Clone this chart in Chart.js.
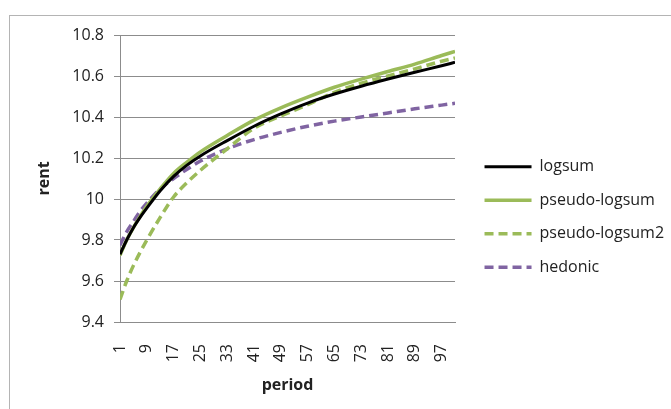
<!DOCTYPE html>
<html>
<head>
<meta charset="utf-8">
<script src="https://cdn.jsdelivr.net/npm/chart.js@4.4.1/dist/chart.umd.min.js"></script>
<style>
  html, body { margin: 0; padding: 0; background: #fff; }
  #wrap { position: relative; width: 671px; height: 409px; overflow: hidden; }
  #frame { position: absolute; left: 9px; top: 15px; width: 680px; height: 420px; border: 1px solid #b4b4b4; box-sizing: border-box; }
  #chart { position: absolute; left: 0; top: 0; }
</style>
</head>
<body>
<div id="wrap">
  <div id="frame"></div>
  <canvas id="chart" width="671" height="409"></canvas>
</div>
<script>
// periods (x positions of the samples)
const periods = [1, 3, 5, 7, 9, 13, 17, 21, 25, 33, 41, 49, 57, 65, 73, 81, 89, 97, 101];

const logsum = [9.73, 9.80, 9.86, 9.91, 9.955, 10.04, 10.11, 10.165, 10.21, 10.285, 10.355, 10.415, 10.468, 10.512, 10.55, 10.585, 10.618, 10.65, 10.667];
const pseudoLogsum = [9.725, 9.80, 9.86, 9.915, 9.965, 10.05, 10.125, 10.18, 10.23, 10.31, 10.385, 10.445, 10.497, 10.545, 10.585, 10.622, 10.658, 10.70, 10.72];
const pseudoLogsum2 = [9.51, 9.60, 9.675, 9.74, 9.80, 9.91, 10.01, 10.08, 10.14, 10.245, 10.345, 10.405, 10.46, 10.52, 10.565, 10.60, 10.635, 10.672, 10.688];
const hedonic = [9.775, 9.84, 9.89, 9.94, 9.98, 10.05, 10.10, 10.145, 10.185, 10.245, 10.29, 10.325, 10.355, 10.38, 10.40, 10.42, 10.44, 10.458, 10.467];

const periodTicks = [1, 9, 17, 25, 33, 41, 49, 57, 65, 73, 81, 89, 97];
const rentTicks = [9.4, 9.6, 9.8, 10, 10.2, 10.4, 10.6, 10.8];

const FONT = "'Open Sans', 'DejaVu Sans', sans-serif";
const GRID = "#8c8c8c";

const points = (values) => periods.map((p, i) => ({ x: p, y: values[i] }));

function line(label, values, color, dash, width) {
  return {
    label,
    data: points(values),
    borderColor: color,
    backgroundColor: color,
    borderWidth: width,
    borderDash: dash,
    pointRadius: 0,
    cubicInterpolationMode: "monotone",
    fill: false
  };
}

// side boxes are capped at a quarter of the width, so widen the
// legend box after layout and nudge it to where the reference has it
const legendShift = {
  id: "legendShift",
  afterLayout(chart) {
    const lg = chart.legend;
    if (!lg) return;
    lg.left += 12;
    lg.right = chart.width;
    lg.width = lg.right - lg.left;
  }
};

// with point styles the legend takes the point's look, so copy the line's
function lineLabels(chart) {
  const base = Chart.defaults.plugins.legend.labels.generateLabels(chart);
  return base.map((item) => {
    const ds = chart.data.datasets[item.datasetIndex];
    item.pointStyle = "line";
    item.strokeStyle = ds.borderColor;
    item.fillStyle = ds.borderColor;
    item.lineWidth = ds.borderWidth;
    item.lineDash = ds.borderDash;
    return item;
  });
}

new Chart(document.getElementById("chart"), {
  type: "line",
  data: {
    datasets: [
      line("logsum", logsum, "#000000", [], 3),
      line("pseudo-logsum", pseudoLogsum, "#9bbb59", [], 3.5),
      line("pseudo-logsum2", pseudoLogsum2, "#9bbb59", [9, 5], 3.5),
      line("hedonic", hedonic, "#8064a2", [9, 5], 3.5)
    ]
  },
  options: {
    responsive: false,
    animation: false,
    devicePixelRatio: 1,
    layout: { padding: { left: 0, top: 35, right: 64.3, bottom: 10 } },
    plugins: {
      tooltip: { enabled: false },
      legend: {
        position: "right",
        labels: {
          usePointStyle: true,
          pointStyle: "line",
          pointStyleWidth: 47,
          padding: 17.5,
          color: "#222",
          font: { family: FONT, size: 16 },
          generateLabels: lineLabels
        }
      }
    },
    scales: {
      x: {
        type: "linear",
        min: 1,
        max: 101,
        afterBuildTicks: (axis) => { axis.ticks = periodTicks.map((v) => ({ value: v })); },
        afterFit: (axis) => { axis.height = 77; },
        grid: { display: false },
        border: { display: true, color: GRID, width: 1 },
        ticks: {
          autoSkip: false,
          minRotation: 90,
          maxRotation: 90,
          padding: 14,
          color: "#222",
          font: { family: FONT, size: 16 }
        },
        title: {
          display: true,
          text: "period",
          color: "#222",
          padding: { top: 0, bottom: 4 },
          font: { family: FONT, size: 16, weight: "bold" }
        }
      },
      y: {
        min: 9.4,
        max: 10.8,
        afterBuildTicks: (axis) => { axis.ticks = rentTicks.map((v) => ({ value: v })); },
        afterFit: (axis) => { axis.width = 120; },
        grid: { color: GRID, lineWidth: 1, tickLength: 6 },
        border: { display: true, color: GRID, width: 1 },
        ticks: {
          padding: 10,
          color: "#222",
          font: { family: FONT, size: 16 },
          callback: (v) => String(Math.round(v * 10) / 10)
        },
        title: {
          display: true,
          text: "rent",
          color: "#222",
          padding: { top: 35, bottom: 0 },
          font: { family: FONT, size: 16, weight: "bold" }
        }
      }
    }
  },
  plugins: [legendShift]
});
</script>
</body>
</html>
